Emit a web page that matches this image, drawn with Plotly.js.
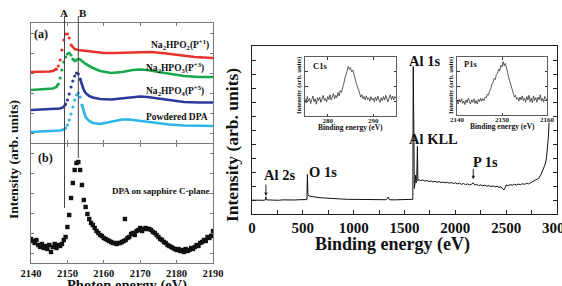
<!DOCTYPE html>
<html><head><meta charset="utf-8">
<script src="https://cdn.plot.ly/plotly-3.0.1.min.js"></script>
<style>html,body{margin:0;padding:0;background:#fff}#g{width:562px;height:286px}</style>
</head><body><div id="g"></div>
<script>
// ---------- Panel (a): XANES reference spectra ----------
const redX   = [2140,2143,2145,2146,2147,2147.5,2148,2148.5,2149,2149.5,2150,2150.5,2151,2152,2153,2155,2158,2160,2163,2166,2170,2173,2176,2180,2185,2190];
const redY   = [7.1,7.1,7.15,7.2,7.4,7.7,8.3,9.3,10.3,10.9,10.9,10.5,9.8,9.4,9.3,9.2,9.1,9.0,9.0,9.05,9.1,9.1,9.0,8.8,8.6,8.5];
const greenX = [2140,2144,2146,2147,2147.5,2148,2148.5,2149,2149.5,2150,2150.5,2151,2151.5,2152,2152.5,2153,2153.5,2154,2155,2156,2157,2159,2162,2165,2168,2170,2172,2175,2178,2182,2186,2190];
const greenY = [5.3,5.35,5.45,5.6,5.9,6.5,7.3,8.1,8.6,8.9,9.0,8.8,8.4,8.2,8.3,8.4,8.35,8.2,7.9,7.7,7.5,7.2,7.0,7.1,7.3,7.35,7.3,7.1,6.9,6.7,6.6,6.6];
const blueX  = [2140,2145,2148,2149,2149.5,2150,2150.5,2151,2151.5,2152,2152.5,2153,2153.5,2154,2154.5,2155,2156,2157,2159,2162,2165,2168,2170,2172,2175,2178,2182,2186,2190];
const blueY  = [3.3,3.35,3.45,3.6,3.9,4.3,4.9,5.6,6.2,6.7,7.0,6.9,6.4,5.8,5.3,5.0,4.7,4.55,4.4,4.35,4.45,4.6,4.65,4.6,4.45,4.25,4.1,4.05,4.05];
const cyanX  = [2140,2145,2148,2149,2149.5,2150,2150.5,2151,2151.5,2152,2152.5,2153,2153.5,2154,2154.5,2155,2156,2157,2159,2162,2165,2167,2170,2174,2178,2182,2186,2190];
const cyanY  = [1.1,1.15,1.25,1.35,1.5,1.8,2.3,2.9,3.6,4.3,4.8,5.0,4.6,3.8,3.1,2.6,2.2,2.0,1.9,2.15,2.35,2.35,2.2,2.0,1.85,1.75,1.7,1.7];
const seriesNames = ["Na<sub>2</sub>HPO<sub>2</sub>(P<sup>+1</sup>)","Na<sub>2</sub>HPO<sub>3</sub>(P<sup>+3</sup>)","Na<sub>2</sub>HPO<sub>4</sub>(P<sup>+5</sup>)","Powdered DPA"];

// ---------- Panel (b): DPA on sapphire ----------
const dpaX = [];
for (let i = 0; i <= 100; i++) dpaX.push(2140 + i * 0.5);
const dpaY = [2.4,2.2,2.0,2.3,1.8,1.6,1.9,1.5,1.7,1.4,1.8,1.1,1.6,1.9,1.5,1.8,1.7,1.9,2.3,2.6,
  3.6,4.8,6.5,8.0,9.3,10.0,10.1,9.3,7.8,6.3,5.6,4.9,4.4,4.0,3.8,3.5,3.2,3.0,2.8,2.7,
  2.5,2.4,2.3,2.2,2.1,2.0,2.0,1.9,2.0,2.0,2.1,2.2,2.3,2.5,2.6,2.9,3.0,2.8,3.2,3.3,
  3.5,3.2,3.4,3.5,3.4,3.4,3.3,3.1,3.0,2.8,2.6,2.4,2.3,2.1,2.0,1.8,1.7,1.6,1.5,1.4,
  1.3,1.4,1.2,1.3,1.1,1.4,1.2,1.3,1.5,1.4,1.6,1.8,1.7,2.0,2.1,2.3,2.2,2.6,2.5,2.7,3.2];
const dpaOutX = [2165.8];
const dpaOutY = [4.4];
const lineA = 2149.2, lineB = 2153.0;

// ---------- Right: XPS survey ----------
const survX = [0,40,80,120,130,137,142,180,220,260,300,340,380,420,460,500,540,545,550,560,580,620,660,700,760,820,880,940,1000,1080,1160,1240,1320,1340,1350,1400,1460,1520,1570,1582,1586,1590,1597,1603,1610,1614,1620,1627,1632,
  1640,1660,1680,1700,1720,1740,1760,1780,1800,1820,1840,1860,1880,1900,1920,1940,1960,1980,2000,2020,2040,2060,2080,2100,2120,2140,2160,2176,2190,2210,2230,2250,2270,2290,2310,2330,2350,2370,2390,2410,2430,2450,2465,2480,2490,
  2500,2520,2540,2560,2580,2600,2620,2640,2660,2680,2700,2720,2740,2760,2780,2800,2820,2840,2860,2880,2895,2905,2912,2918,2922];
const survY = [0.06,0.04,0.07,0.05,0.08,0.3,0.08,0.06,0.08,0.05,0.08,0.06,0.09,0.07,0.09,0.08,0.10,1.9,0.45,0.35,0.32,0.28,0.24,0.22,0.18,0.16,0.14,0.12,0.11,0.10,0.09,0.09,0.09,0.28,0.09,0.08,0.08,0.08,0.09,0.12,9.6,1.1,0.9,1.25,1.85,1.3,1.45,3.9,1.45,
  1.52,1.45,1.50,1.42,1.47,1.38,1.44,1.36,1.41,1.33,1.39,1.31,1.36,1.29,1.34,1.27,1.32,1.24,1.30,1.22,1.27,1.19,1.25,1.17,1.22,1.15,1.20,1.30,1.14,1.18,1.10,1.15,1.08,1.13,1.05,1.10,1.03,1.08,1.00,1.05,0.98,1.01,0.85,0.80,0.95,
  1.14,1.10,1.17,1.12,1.19,1.14,1.21,1.16,1.23,1.19,1.26,1.22,1.30,1.33,1.42,1.50,1.62,1.85,2.15,2.55,3.0,3.6,4.3,5.0,5.6];

// ---------- Insets ----------
const c1sX = [];
for (let i = 0; i <= 80; i++) c1sX.push(275 + i * 0.25);
const c1sY = [2.9,2.2,3.3,2.5,3.0,2.1,2.8,3.4,2.4,2.9,2.0,3.1,2.6,3.2,2.3,2.8,3.5,2.6,3.0,2.4,
  3.3,2.8,3.6,2.7,3.2,3.8,2.9,3.5,3.1,4.0,3.4,4.3,4.0,5.0,5.4,6.3,6.8,7.6,8.4,7.9,
  8.2,7.5,7.8,6.9,6.4,5.6,5.0,4.2,3.9,3.2,3.6,2.9,3.3,2.7,3.4,2.8,3.1,2.5,3.3,2.7,
  3.0,2.4,3.2,2.6,3.4,2.8,2.3,3.1,2.6,3.3,2.7,3.5,2.9,2.4,3.2,3.6,2.8,3.4,2.7,3.3,3.0];
const p1sX = [];
for (let i = 0; i <= 80; i++) p1sX.push(2140 + i * 0.25);
const p1sY = [2.5,1.9,2.7,2.2,2.8,2.0,2.4,1.8,2.6,2.1,2.9,2.3,1.9,2.6,2.2,2.8,2.0,2.5,1.9,2.7,
  2.3,2.9,2.4,2.8,2.5,3.1,3.0,3.6,3.4,4.2,4.5,5.3,5.6,6.3,6.1,7.0,7.2,7.9,7.6,8.6,
  8.3,9.2,8.5,8.9,7.8,7.3,6.4,5.7,5.0,4.1,3.8,3.1,3.4,2.7,3.0,2.4,3.1,2.6,3.3,2.5,
  2.9,2.2,3.2,2.6,3.4,2.3,2.9,2.1,3.3,2.5,3.0,2.2,3.1,2.6,3.5,2.4,2.9,2.2,3.2,2.7,2.5];

// ---------- build ----------
const W = 562, H = 286;
const px = v => v / W, py = v => 1 - v / H;
const SERIF = "Liberation Serif, Times New Roman, serif";
const colors = ["#e8342f", "#17a84b", "#2a3a9c", "#2cb5e8"];
const edges = [[2147, 2151], [2147.5, 2151.5], [2149.5, 2153.5], [2149.5, 2154]];
const curves = [[redX, redY], [greenX, greenY], [blueX, blueY], [cyanX, cyanY]];
const data = [];
curves.forEach((c, k) => {
  const [xs, ys] = c, [lo, hi] = edges[k];
  data.push({x: xs, y: xs.map((x, i) => (x > lo && x < hi) ? null : ys[i]), mode: "lines",
    line: {color: colors[k], width: 2.6}, xaxis: "x", yaxis: "y", hoverinfo: "skip", connectgaps: false});
  const mx = [], my = [];
  xs.forEach((x, i) => { if (x >= lo && x <= hi) { mx.push(x); my.push(ys[i]); } });
  data.push({x: mx, y: my, mode: "markers", marker: {color: colors[k], size: 3.2}, xaxis: "x", yaxis: "y", hoverinfo: "skip"});
});
data.push({x: dpaX, y: dpaY, mode: "markers", marker: {symbol: "square", color: "#111", size: 4.4}, xaxis: "x2", yaxis: "y2"});
data.push({x: dpaOutX, y: dpaOutY, mode: "markers", marker: {symbol: "square", color: "#111", size: 4.4}, xaxis: "x2", yaxis: "y2"});
data.push({x: survX, y: survY, mode: "lines", line: {color: "#111", width: 1}, xaxis: "x3", yaxis: "y3"});
data.push({x: c1sX, y: c1sY, mode: "lines", line: {color: "#333", width: 0.8}, xaxis: "x4", yaxis: "y4"});
data.push({x: p1sX, y: p1sY, mode: "lines", line: {color: "#333", width: 0.8}, xaxis: "x5", yaxis: "y5"});

const leftAx = {showline: true, linecolor: "#777", linewidth: 1.2, mirror: "ticks", ticks: "inside", ticklen: 3,
  tickcolor: "#777", showgrid: false, zeroline: false};
const tf = (s, c) => ({family: SERIF, size: s, color: c || "#111", weight: "bold"});
const insetX = {showline: true, linecolor: "#333", linewidth: 0.8, mirror: "ticks", ticks: "inside", ticklen: 2.5,
  tickcolor: "#333", showgrid: false, zeroline: false, tickfont: tf(7, "#222"), ticklabelstandoff: -2, ticklabeloverflow: "allow"};
const insetY = {showline: true, linecolor: "#333", linewidth: 0.8, mirror: "ticks", ticks: "inside", ticklen: 2.5,
  tickcolor: "#333", showgrid: false, zeroline: false, showticklabels: false, range: [0, 10], dtick: 2.5};

const layout = {
  width: W, height: H, margin: {l: 0, r: 0, t: 0, b: 0}, paper_bgcolor: "#fff", plot_bgcolor: "rgba(0,0,0,0)",
  showlegend: false,
  xaxis: Object.assign({}, leftAx, {domain: [px(31), px(213)], range: [2140, 2190], dtick: 10, showticklabels: false, anchor: "y"}),
  yaxis: Object.assign({}, leftAx, {domain: [py(143), py(23)], range: [0, 12], tick0: 1, dtick: 2, showticklabels: false, anchor: "x"}),
  xaxis2: Object.assign({}, leftAx, {domain: [px(31), px(213)], range: [2140, 2190], dtick: 10, anchor: "y2", tickfont: tf(10.5), ticklabeloverflow: "allow"}),
  yaxis2: Object.assign({}, leftAx, {domain: [py(263), py(144)], range: [0, 11.9], tick0: 1, dtick: 2, showticklabels: false, anchor: "x2"}),
  xaxis3: {domain: [px(252), px(557)], range: [0, 3000], dtick: 500, anchor: "y3", showline: true, linecolor: "#222", linewidth: 1,
    mirror: true, ticks: "inside", ticklen: 4, tickcolor: "#222", showgrid: false, zeroline: false, tickfont: tf(15),
    ticklabeloverflow: "allow", minor: {dtick: 250, ticks: "inside", ticklen: 4, tickcolor: "#222"}},
  yaxis3: {domain: [py(214), py(46)], range: [-0.93, 11.07], tick0: 0, dtick: 1, anchor: "x3", showline: true, linecolor: "#222", linewidth: 1,
    mirror: "ticks", ticks: "inside", ticklen: 4, tickcolor: "#222", showgrid: false, zeroline: false, showticklabels: false},
  xaxis4: Object.assign({}, insetX, {domain: [px(305), px(396)], range: [275, 295], dtick: 10, tick0: 280, anchor: "y4"}),
  yaxis4: Object.assign({}, insetY, {domain: [py(116), py(57)], anchor: "x4"}),
  xaxis5: Object.assign({}, insetX, {domain: [px(457), px(547)], range: [2140, 2160], dtick: 10, anchor: "y5"}),
  yaxis5: Object.assign({}, insetY, {domain: [py(115), py(57)], anchor: "x5"}),
  shapes: [
    {type: "line", xref: "x", yref: "paper", x0: lineA, x1: lineA, y0: py(208), y1: py(16), line: {color: "#444", width: 1}},
    {type: "line", xref: "x", yref: "paper", x0: lineB, x1: lineB, y0: py(158), y1: py(16), line: {color: "#444", width: 1}}
  ],
  annotations: []
};
const A = layout.annotations;
const ann = (text, x, y, size, opts) => A.push(Object.assign({text: text, xref: "paper", yref: "paper", x: px(x), y: py(y),
  showarrow: false, font: tf(size), xanchor: "center", yanchor: "middle"}, opts || {}));

ann("A", 64, 13, 11);
ann("B", 83, 13, 11);
ann("(a)", 41, 34, 12);
ann("(b)", 45, 158, 12);
const labelY = [44, 67, 91, 117], labelR = [211, 206, 206, 210];
seriesNames.forEach((n, k) => ann(n, labelR[k], labelY[k], 9.5, {xanchor: "right"}));
ann("DPA on sapphire C-plane", 211, 191, 9, {xanchor: "right"});
ann("Intensity (arb. units)", 13, 160, 13.5, {textangle: -90});
ann("Photon energy (eV)", 127, 285, 14.5);

ann("Intensity (arb. units)", 232, 145, 17.5, {textangle: -90});
ann("Binding energy (eV)", 392, 244, 18);
ann("Al 2s", 279, 175, 14.5);
ann("O 1s", 323, 172, 14.5);
ann("Al 1s", 424, 61, 14.5);
ann("Al KLL", 433, 139, 14.5);
ann("P 1s", 485, 162, 14.5);
// arrows
A.push({x: 137, y: 0.35, xref: "x3", yref: "y3", text: "", showarrow: true, arrowhead: 2, arrowsize: 0.7, arrowwidth: 1, arrowcolor: "#222", ax: 0, ay: -13});
A.push({x: 2176, y: 1.55, xref: "x3", yref: "y3", text: "", showarrow: true, arrowhead: 2, arrowsize: 0.7, arrowwidth: 1, arrowcolor: "#222", ax: 0, ay: -12});

// insets
ann("C1s", 320, 66, 8.5);
ann("P1s", 470, 64, 8.5);
ann("Binding energy (eV)", 350, 128, 7.5);
ann("Binding energy (eV)", 502, 126, 7.5);
ann("Intensity (arb. units)", 299, 86, 6.5, {textangle: -90});
ann("Intensity (arb. units)", 451, 86, 6.5, {textangle: -90});

Plotly.newPlot("g", data, layout, {staticPlot: true, displayModeBar: false});
</script></body></html>
